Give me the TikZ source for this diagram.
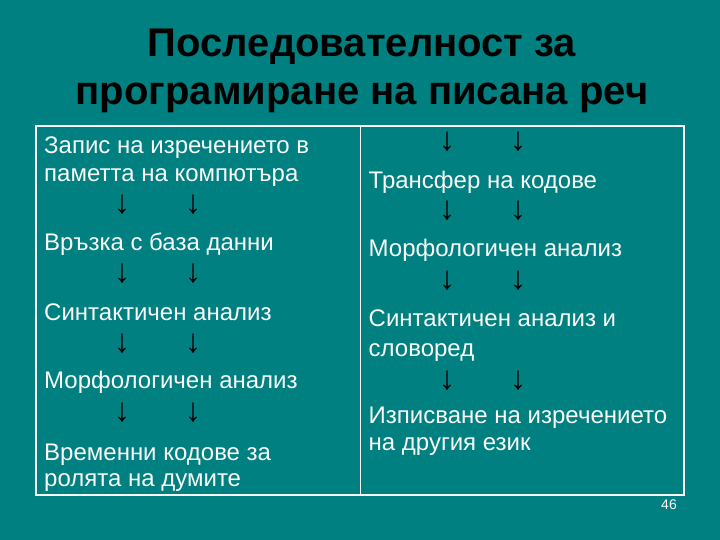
\documentclass[tikz,border=0pt]{standalone}
\usepackage{fontspec}
\setmainfont{Liberation Sans}
\definecolor{slidebg}{RGB}{0,128,128}
\definecolor{bodytxt}{RGB}{250,250,250}
\tikzset{
  titletxt/.style={font=\fontsize{40}{48}\selectfont\bfseries, text=black, inner sep=0pt, anchor=base},
  itemtxt/.style={font=\fontsize{24}{28}\selectfont, text=bodytxt, inner sep=0pt, anchor=base west},
  arrowtxt/.style={font=\fontsize{33}{40}\selectfont\bfseries, text=black, inner sep=0pt, anchor=center},
  tableline/.style={draw=bodytxt, line width=1.5pt},
  pagenum/.style={font=\fontsize{14}{16}\selectfont, text=bodytxt, inner sep=0pt, anchor=base}
}
\begin{document}
\begin{tikzpicture}[x=1pt,y=-1pt]
\useasboundingbox (0,0) rectangle (720,540);
\fill[slidebg] (0,0) rectangle (720,540);
% title
\node[titletxt] (t1) at (362,56.7) {Последователност за};
\node[titletxt] (t2) at (362,105) {програмиране на писана реч};
% table
\coordinate (tl) at (36,126);
\coordinate (br) at (684,495);
\coordinate (mt) at (360.5,126);
\coordinate (mb) at (360.5,495);
\draw[tableline] (tl) rectangle (br);
\draw[tableline] (mt) -- (mb);
% left column
\node[itemtxt] (l1a) at (44,154) {Запис на изречението в};
\node[itemtxt] (l1b) at (44,181.7) {паметта на компютъра};
\node[arrowtxt] (la1) at (122,205) {↓};
\node[arrowtxt] (lb1) at (193,205) {↓};
\node[itemtxt] (l2) at (44,250.7) {Връзка с база данни};
\node[arrowtxt] (la2) at (122,274) {↓};
\node[arrowtxt] (lb2) at (193,274) {↓};
\node[itemtxt] (l3) at (44,320) {Синтактичен анализ};
\node[arrowtxt] (la3) at (122,343.5) {↓};
\node[arrowtxt] (lb3) at (193,343.5) {↓};
\node[itemtxt] (l4) at (44,388.3) {Морфологичен анализ};
\node[arrowtxt] (la4) at (122,412.5) {↓};
\node[arrowtxt] (lb4) at (193,412.5) {↓};
\node[itemtxt] (l5a) at (44,460) {Временни кодове за};
\node[itemtxt] (l5b) at (44,486.7) {ролята на думите};
% right column
\node[arrowtxt] (ra1) at (447,141.5) {↓};
\node[arrowtxt] (rb1) at (518,141.5) {↓};
\node[itemtxt] (r1) at (368.5,188.3) {Трансфер на кодове};
\node[arrowtxt] (ra2) at (447,211) {↓};
\node[arrowtxt] (rb2) at (518,211) {↓};
\node[itemtxt] (r2) at (368.5,256.7) {Морфологичен анализ};
\node[arrowtxt] (ra3) at (447,281) {↓};
\node[arrowtxt] (rb3) at (518,281) {↓};
\node[itemtxt] (r3a) at (368.5,326.7) {Синтактичен анализ и};
\node[itemtxt] (r3b) at (368.5,356.7) {словоред};
\node[arrowtxt] (ra4) at (447,381) {↓};
\node[arrowtxt] (rb4) at (518,381) {↓};
\node[itemtxt] (r4a) at (368.5,423.3) {Изписване на изречението};
\node[itemtxt] (r4b) at (368.5,450) {на другия език};
% page number
\node[pagenum] (pg) at (669,509) {46};
\end{tikzpicture}
\end{document}
